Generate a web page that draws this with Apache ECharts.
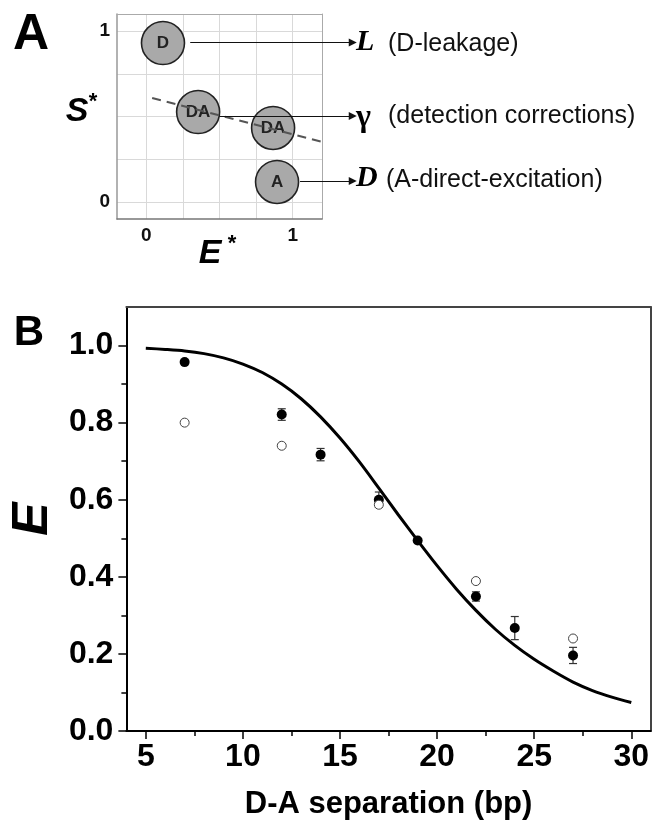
<!DOCTYPE html>
<html lang="en">
<head>
<meta charset="UTF-8">
<title>FRET corrections</title>
<script src="https://cdn.jsdelivr.net/npm/echarts@6.0.0/dist/echarts.min.js"></script>
<style>
  html, body { margin: 0; padding: 0; background: #fff; }
  #main { width: 652px; height: 825px; }
</style>
</head>
<body>
<div id="main"></div>
<script>
// ---- panel A: E*-S* schematic ----
var spotE = [0.114, 0.354, 0.866, 0.893];
var spotS = [0.930, 0.526, 0.433, 0.117];
var spotName = ['D', 'DA', 'DA', 'A'];
var dashE = [0.04, 1.2];
var dashS = [0.608, 0.352];
var arrowFromE = [0.30, 0.50, 1.05];
var arrowToE = [1.41, 1.41, 1.41];
var arrowS = [0.933, 0.503, 0.122];
var corrSymbol = ['L', 'γ', 'D'];
var corrText = ['(D-leakage)', '(detection corrections)', '(A-direct-excitation)'];
var ticksA = [0, 0.25, 0.5, 0.75, 1];
var labelsA = [0, 1];

// ---- panel B: E vs D-A separation ----
var bpFilled = [7, 12, 14, 17, 19, 22, 24, 27];
var eFilled = [0.957, 0.821, 0.717, 0.600, 0.494, 0.349, 0.267, 0.196];
var eFilledErr = [0, 0.015, 0.016, 0.020, 0, 0.012, 0.030, 0.021];
var bpOpen = [7, 12, 17, 22, 27];
var eOpen = [0.800, 0.740, 0.587, 0.389, 0.240];
var fitBp = [5, 6, 7, 8, 9, 10, 11, 12, 13, 14, 15, 16, 17, 18, 19, 20, 21, 22, 23, 24, 25, 26, 27, 28, 29, 30];
var fitE = [0.993, 0.990, 0.986, 0.979, 0.968, 0.952, 0.930, 0.900, 0.862, 0.815, 0.760, 0.698, 0.630, 0.561, 0.494, 0.429, 0.368, 0.313, 0.264, 0.222, 0.186, 0.155, 0.127, 0.105, 0.088, 0.074];
var xMajor = [5, 10, 15, 20, 25, 30];
var xMinor = [7.5, 12.5, 17.5, 22.5, 27.5];
var yMajor = [0, 0.2, 0.4, 0.6, 0.8, 1.0];
var yMinor = [0.1, 0.3, 0.5, 0.7, 0.9];

var SANS = "'Liberation Sans', Arial, sans-serif";
var SERIF = "'Liberation Serif', 'Times New Roman', serif";

function zip(a, b) {
  return a.map(function (v, i) { return [v, b[i]]; });
}

var myChart = echarts.init(document.getElementById('main'), null, { renderer: 'canvas' });

var hidden = { show: false };

var graphics = [
  { type: 'text', x: 31, y: 35, style: { text: 'A', font: 'bold 50px ' + SANS, fill: '#000', align: 'center', verticalAlign: 'middle', textAlign: 'center', textVerticalAlign: 'middle' } },
  { type: 'text', x: 29, y: 333, style: { text: 'B', font: 'bold 42px ' + SANS, fill: '#000', align: 'center', verticalAlign: 'middle', textAlign: 'center', textVerticalAlign: 'middle' } },
  { type: 'text', x: 77, y: 112, style: { text: 'S', font: 'italic bold 34px ' + SANS, fill: '#000', align: 'center', verticalAlign: 'middle', textAlign: 'center', textVerticalAlign: 'middle' } },
  { type: 'text', x: 93, y: 102, style: { text: '*', font: 'bold 22px ' + SANS, fill: '#000', align: 'center', verticalAlign: 'middle', textAlign: 'center', textVerticalAlign: 'middle' } },
  { type: 'text', x: 210, y: 254, style: { text: 'E', font: 'italic bold 34px ' + SANS, fill: '#000', align: 'center', verticalAlign: 'middle', textAlign: 'center', textVerticalAlign: 'middle' } },
  { type: 'text', x: 232, y: 244, style: { text: '*', font: 'bold 22px ' + SANS, fill: '#000', align: 'center', verticalAlign: 'middle', textAlign: 'center', textVerticalAlign: 'middle' } }
];
var rowY = [42, 114, 178];
var descX = [388, 388, 386];
for (var i = 0; i < corrSymbol.length; i++) {
  graphics.push({ type: 'text', x: 356, y: rowY[i] + (i === 1 ? 4 : 0), style: { text: corrSymbol[i], font: (i === 1 ? 'bold 32px ' : 'italic bold 30px ') + SERIF, fill: '#000', align: 'left', verticalAlign: 'middle', textAlign: 'left', textVerticalAlign: 'middle' } });
  graphics.push({ type: 'text', x: descX[i], y: rowY[i] + 2, style: { text: corrText[i], font: '25px ' + SANS, fill: '#111', align: 'left', verticalAlign: 'middle', textAlign: 'left', textVerticalAlign: 'middle' } });
}

option = {
  animation: false,
  backgroundColor: '#fff',
  graphic: graphics,
  grid: [
    { left: 117, top: 14, width: 205, height: 205 },
    { left: 124, top: 307, right: 1, bottom: 94 }
  ],
  xAxis: [
    { // 0: panel A bottom
      type: 'value', gridIndex: 0, min: -0.2, max: 1.2, position: 'bottom',
      axisLine: { onZero: false, lineStyle: { color: '#777', width: 1.5 } },
      axisTick: { show: false, customValues: ticksA },
      axisLabel: { customValues: labelsA, margin: 7, color: '#111', fontSize: 19, fontWeight: 'bold', fontFamily: SANS },
      splitLine: { show: true, lineStyle: { color: '#d9d9d9', width: 1 } }
    },
    { // 1: panel A top border
      type: 'value', gridIndex: 0, min: -0.2, max: 1.2, position: 'top',
      axisLine: { onZero: false, lineStyle: { color: '#aaa', width: 1 } },
      axisTick: hidden, axisLabel: hidden, splitLine: hidden
    },
    { // 2: panel B bottom, major ticks
      type: 'value', gridIndex: 1, min: 4, max: 31, position: 'bottom',
      name: 'D-A separation (bp)', nameLocation: 'middle', nameGap: 58,
      nameTextStyle: { color: '#000', fontSize: 31, fontWeight: 'bold', fontFamily: SANS },
      axisLine: { onZero: false, lineStyle: { color: '#000', width: 2 } },
      axisTick: { customValues: xMajor, length: 8, lineStyle: { color: '#000', width: 1.5 } },
      axisLabel: { customValues: xMajor, margin: 10, color: '#000', fontSize: 32, fontWeight: 'bold', fontFamily: SANS },
      splitLine: hidden
    },
    { // 3: panel B bottom, minor ticks
      type: 'value', gridIndex: 1, min: 4, max: 31, position: 'bottom',
      axisLine: { show: false, onZero: false },
      axisTick: { customValues: xMinor, length: 5, lineStyle: { color: '#000', width: 1.5 } },
      axisLabel: hidden, splitLine: hidden
    },
    { // 4: panel B top border
      type: 'value', gridIndex: 1, min: 4, max: 31, position: 'top',
      axisLine: { onZero: false, lineStyle: { color: '#444', width: 2 } },
      axisTick: hidden, axisLabel: hidden, splitLine: hidden
    }
  ],
  yAxis: [
    { // 0: panel A left
      type: 'value', gridIndex: 0, min: -0.1, max: 1.1, position: 'left',
      axisLine: { onZero: false, lineStyle: { color: '#999', width: 1.5 } },
      axisTick: { show: false, customValues: ticksA },
      axisLabel: { customValues: labelsA, margin: 7, color: '#111', fontSize: 19, fontWeight: 'bold', fontFamily: SANS },
      splitLine: { show: true, lineStyle: { color: '#d9d9d9', width: 1 } }
    },
    { // 1: panel A right border
      type: 'value', gridIndex: 0, min: -0.1, max: 1.1, position: 'right',
      axisLine: { onZero: false, lineStyle: { color: '#aaa', width: 1 } },
      axisTick: hidden, axisLabel: hidden, splitLine: hidden
    },
    { // 2: panel B left, major ticks
      type: 'value', gridIndex: 1, min: 0, max: 1.1, position: 'left',
      name: 'E', nameLocation: 'middle', nameGap: 60,
      nameTextStyle: { color: '#000', fontSize: 50, fontWeight: 'bold', fontStyle: 'italic', fontFamily: SANS },
      axisLine: { onZero: false, lineStyle: { color: '#000', width: 2 } },
      axisTick: { customValues: yMajor, length: 8, lineStyle: { color: '#000', width: 1.5 } },
      axisLabel: { customValues: yMajor, margin: 13, color: '#000', fontSize: 32, fontWeight: 'bold', fontFamily: SANS,
        formatter: function (v) { return v.toFixed(1); } },
      splitLine: hidden
    },
    { // 3: panel B left, minor ticks
      type: 'value', gridIndex: 1, min: 0, max: 1.1, position: 'left',
      axisLine: { show: false, onZero: false },
      axisTick: { customValues: yMinor, length: 5, lineStyle: { color: '#000', width: 1.5 } },
      axisLabel: hidden, splitLine: hidden
    },
    { // 4: panel B right border
      type: 'value', gridIndex: 1, min: 0, max: 1.1, position: 'right',
      axisLine: { onZero: false, lineStyle: { color: '#444', width: 2 } },
      axisTick: hidden, axisLabel: hidden, splitLine: hidden
    }
  ],
  series: [
    { // populations in panel A
      type: 'scatter', xAxisIndex: 0, yAxisIndex: 0, z: 3,
      data: zip(spotE, spotS),
      symbol: 'circle', symbolSize: 43,
      itemStyle: { color: '#a9a9a9', borderColor: '#222', borderWidth: 1.6, opacity: 1 },
      label: { show: true, position: 'inside', color: '#222', fontSize: 17, fontWeight: 'bold', fontFamily: SANS,
        formatter: function (p) { return spotName[p.dataIndex]; } }
    },
    { // dashed gamma line
      type: 'line', xAxisIndex: 0, yAxisIndex: 0, z: 4,
      data: zip(dashE, dashS), symbol: 'none',
      lineStyle: { color: '#555', width: 2, type: [9, 6] }
    },
    { // correction arrows
      type: 'lines', coordinateSystem: 'cartesian2d', xAxisIndex: 0, yAxisIndex: 0, z: 5, clip: false,
      data: arrowS.map(function (s, i) { return { coords: [[arrowFromE[i], s], [arrowToE[i], s]] }; }),
      symbol: ['none', 'triangle'], symbolSize: [0, 8],
      lineStyle: { color: '#111', width: 1.2, opacity: 1 }
    },
    { // fit curve
      type: 'line', xAxisIndex: 2, yAxisIndex: 2, z: 3,
      data: zip(fitBp, fitE), symbol: 'none', smooth: 0.3,
      lineStyle: { color: '#000', width: 3 }
    },
    { // error bars
      type: 'custom', xAxisIndex: 2, yAxisIndex: 2, z: 2,
      data: bpFilled.map(function (x, i) { return [x, eFilled[i], eFilledErr[i]]; }),
      renderItem: function (params, api) {
        var x = api.value(0), y = api.value(1), e = api.value(2);
        if (!e) return { type: 'group', children: [] };
        var t = api.coord([x, y + e]);
        var b = api.coord([x, y - e]);
        var w = 4;
        var st = { stroke: '#333', lineWidth: 1.2 };
        return {
          type: 'group',
          children: [
            { type: 'line', shape: { x1: t[0], y1: t[1], x2: b[0], y2: b[1] }, style: st },
            { type: 'line', shape: { x1: t[0] - w, y1: t[1], x2: t[0] + w, y2: t[1] }, style: st },
            { type: 'line', shape: { x1: b[0] - w, y1: b[1], x2: b[0] + w, y2: b[1] }, style: st }
          ]
        };
      }
    },
    { // filled points
      type: 'scatter', xAxisIndex: 2, yAxisIndex: 2, z: 4,
      data: zip(bpFilled, eFilled), symbol: 'circle', symbolSize: 10,
      itemStyle: { color: '#000', opacity: 1 }
    },
    { // open points
      type: 'scatter', xAxisIndex: 2, yAxisIndex: 2, z: 5,
      data: zip(bpOpen, eOpen), symbol: 'circle', symbolSize: 9,
      itemStyle: { color: '#fff', borderColor: '#444', borderWidth: 1, opacity: 1 }
    }
  ]
};
myChart.setOption(option);
</script>
</body>
</html>
